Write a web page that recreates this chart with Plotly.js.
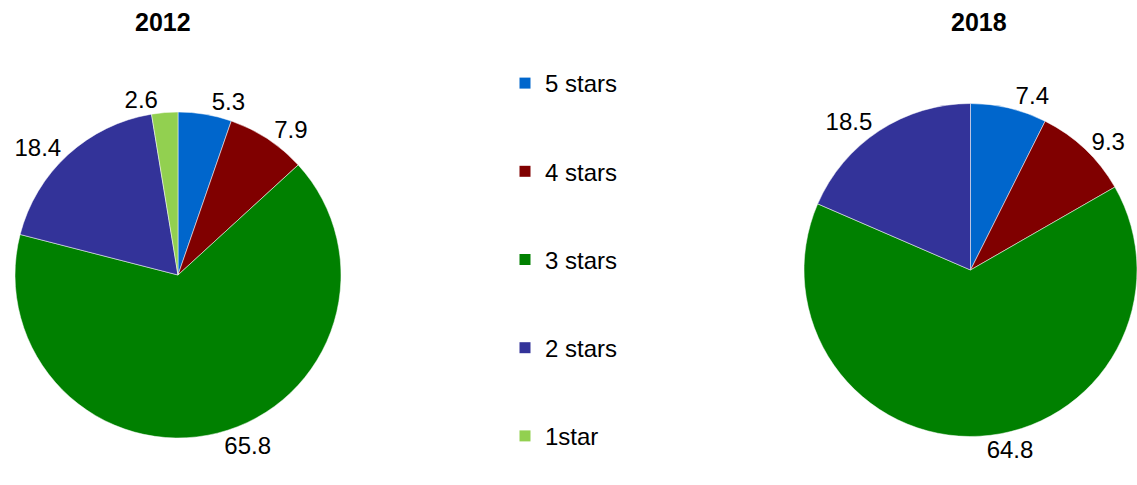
<!DOCTYPE html>
<html><head><meta charset="utf-8">
<script src="https://cdn.plot.ly/plotly-3.0.1.min.js"></script>
<style>html,body{margin:0;padding:0;background:#fff}#chart{width:1137px;height:485px}</style>
</head><body><div id="chart"></div>
<script>
const categories = ["5 stars", "4 stars", "3 stars", "2 stars", "1star"];
const colors = ["#0066CC", "#800000", "#008000", "#333399", "#92D050"];
const values2012 = [5.3, 7.9, 65.8, 18.4, 2.6];
const categories2018 = ["5 stars", "4 stars", "3 stars", "2 stars"];
const values2018 = [7.4, 9.3, 64.8, 18.5];
const years = ["2012", "2018"];

const W = 1137, H = 485;
const font = "Liberation Sans, Arial, sans-serif";

function pie(labels, vals, dom) {
  return {
    type: "pie", labels: labels, values: vals, sort: false, direction: "clockwise", rotation: 0,
    marker: {colors: labels.map(l => colors[categories.indexOf(l)]), line: {color: "#ffffff", width: 0.5}},
    textinfo: "value", textposition: "outside", texttemplate: "%{value:.1f}",
    outsidetextfont: {size: 24, color: "#000", family: font},
    showlegend: false, domain: dom, hoverinfo: "label+value"
  };
}

const traces = [
  pie(categories, values2012, {x: [15/W, 341/W], y: [1 - 438/H, 1 - 112/H]}),
  pie(categories2018, values2018, {x: [804/W, 1], y: [1 - 437/H, 1 - 103/H]})
];
categories.forEach((c, i) => {
  traces.push({type: "scatter", x: [null], y: [null], mode: "markers", name: c, legendgroup: c,
    marker: {symbol: "square", size: 11, color: colors[i]}, hoverinfo: "skip"});
});

const layout = {
  width: W, height: H, margin: {l: 0, r: 0, t: 0, b: 0},
  paper_bgcolor: "#fff", plot_bgcolor: "#fff",
  xaxis: {visible: false}, yaxis: {visible: false},
  showlegend: true,
  legend: {x: 505/W, y: 1 - 61/H, xanchor: "left", yanchor: "top", tracegroupgap: 54,
    font: {size: 24, color: "#000", family: font}, itemwidth: 30, bgcolor: "rgba(0,0,0,0)"},
  annotations: [
    {text: "<b>" + years[0] + "</b>", x: 163/W, y: 1 - 22/H, xref: "paper", yref: "paper", xanchor: "center", yanchor: "middle", showarrow: false, font: {size: 25, family: font, color: "#000"}},
    {text: "<b>" + years[1] + "</b>", x: 979/W, y: 1 - 22/H, xref: "paper", yref: "paper", xanchor: "center", yanchor: "middle", showarrow: false, font: {size: 25, family: font, color: "#000"}}
  ]
};
Plotly.newPlot("chart", traces, layout, {displayModeBar: false, staticPlot: true});
</script></body></html>
